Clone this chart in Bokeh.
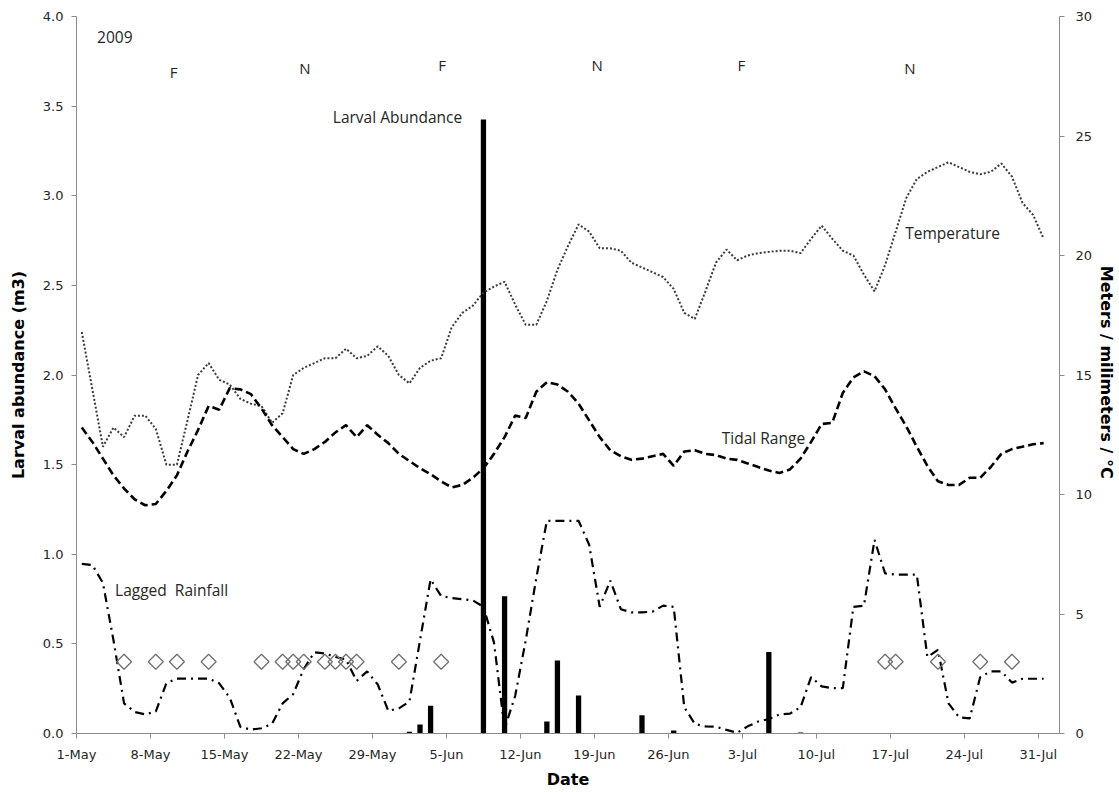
import numpy as np
import pandas as pd
from bokeh.plotting import figure
from bokeh.models import Range1d, LinearAxis, FixedTicker, ColumnDataSource, NumeralTickFormatter
from bokeh.embed import file_html
from bokeh.resources import INLINE
from bokeh.core.properties import value

# ---------------- data ----------------
start_date = "2009-05-01"
end_date = "2009-07-31"

temperature = [16.8, 14.4, 12.0, 12.8, 12.4, 13.3, 13.3, 12.75, 11.25, 11.25,
               13.1, 15.0, 15.5, 14.8, 14.6, 14.0, 13.8, 13.7, 13.0, 13.4,
               15.0, 15.3, 15.5, 15.7, 15.7, 16.1, 15.7, 15.8, 16.2, 15.8,
               15.0, 14.65, 15.3, 15.6, 15.7, 17.0, 17.6, 17.9, 18.45, 18.7,
               18.9, 17.95, 17.1, 17.1, 18.1, 19.4, 20.4, 21.3, 21.0, 20.3,
               20.3, 20.2, 19.7, 19.5, 19.3, 19.1, 18.6, 17.6, 17.35, 18.5,
               19.7, 20.25, 19.8, 20.0, 20.1, 20.15, 20.2, 20.2, 20.1, 20.7,
               21.25, 20.7, 20.2, 20.0, 19.2, 18.5, 19.6, 21.0, 22.4, 23.2,
               23.5, 23.7, 23.9, 23.7, 23.5, 23.4, 23.5, 23.85, 23.3, 22.2,
               21.7, 20.7]

tidal_range = [12.8, 12.2, 11.5, 10.8, 10.25, 9.8, 9.55, 9.6, 10.15, 10.8,
               11.8, 12.7, 13.7, 13.55, 14.45, 14.4, 14.2, 13.6, 12.9, 12.4,
               11.9, 11.7, 11.9, 12.2, 12.6, 12.9, 12.4, 12.9, 12.5, 12.15,
               11.7, 11.4, 11.1, 10.85, 10.55, 10.3, 10.4, 10.7, 11.1, 11.7,
               12.4, 13.3, 13.2, 14.3, 14.7, 14.6, 14.3, 13.8, 13.1, 12.4,
               11.85, 11.6, 11.45, 11.5, 11.6, 11.7, 11.2, 11.8, 11.85, 11.7,
               11.65, 11.5, 11.45, 11.3, 11.15, 11.0, 10.9, 11.05, 11.5, 12.2,
               12.95, 13.0, 14.25, 14.9, 15.15, 14.95, 14.4, 13.6, 12.85, 12.0,
               11.2, 10.55, 10.4, 10.4, 10.7, 10.7, 11.15, 11.7, 11.9, 12.0,
               12.1, 12.15]

lagged_rainfall = [7.1, 7.05, 6.3, 3.9, 1.26, 0.9, 0.8, 0.92, 2.1, 2.3,
                   2.3, 2.3, 2.3, 2.1, 1.5, 0.28, 0.16, 0.22, 0.4, 1.26,
                   1.65, 2.7, 3.4, 3.35, 3.2, 3.1, 2.2, 2.6, 2.05, 0.95,
                   1.05, 1.34, 3.9, 6.45, 5.75, 5.67, 5.62, 5.57, 5.3, 3.8,
                   0.2, 1.57, 3.9, 6.5, 8.9, 8.9, 8.9, 8.9, 7.9, 5.3,
                   6.4, 5.2, 5.07, 5.07, 5.1, 5.35, 5.3, 1.1, 0.4, 0.3,
                   0.28, 0.15, 0.03, 0.3, 0.5, 0.6, 0.8, 0.83, 1.1, 2.36,
                   1.97, 1.9, 1.9, 5.3, 5.35, 8.1, 6.7, 6.65, 6.65, 6.65,
                   3.2, 3.5, 1.26, 0.68, 0.63, 2.36, 2.6, 2.6, 2.13, 2.29,
                   2.29, 2.29]

larval_dates = ["2009-06-01", "2009-06-02", "2009-06-03", "2009-06-08", "2009-06-10",
                "2009-06-14", "2009-06-15", "2009-06-17", "2009-06-23", "2009-06-26",
                "2009-07-05", "2009-07-08"]
larval_abundance = [0.01, 0.05, 0.155, 3.425, 0.766, 0.067, 0.407, 0.212, 0.102, 0.017,
                    0.454, 0.006]

sample_dates = ["2009-05-05", "2009-05-08", "2009-05-10", "2009-05-13", "2009-05-18",
                "2009-05-20", "2009-05-21", "2009-05-22", "2009-05-24", "2009-05-25",
                "2009-05-26", "2009-05-27", "2009-05-31", "2009-06-04", "2009-07-16",
                "2009-07-17", "2009-07-21", "2009-07-25", "2009-07-28"]
sample_marker_value = [0.4] * len(sample_dates)

tick_labels = ["1-May", "8-May", "15-May", "22-May", "29-May", "5-Jun", "12-Jun",
               "19-Jun", "26-Jun", "3-Jul", "10-Jul", "17-Jul", "24-Jul", "31-Jul"]

moon_phase_labels = ["F", "N", "F", "N", "F", "N"]
series_labels = ["Larval Abundance", "Temperature", "Tidal Range", "Lagged\u00a0 Rainfall"]
year_label = "2009"

# ---------------- helpers ----------------
t0 = pd.Timestamp(start_date)
dates = pd.date_range(start_date, end_date, freq="D")
x_series = np.asarray((dates - t0).days, dtype=float) + 0.5


def day_pos(ds):
    return np.asarray((pd.to_datetime(ds) - t0).days, dtype=float) + 0.5


n_days = len(dates) + 1  # axis spans one extra category slot
tick_positions = list(range(0, len(dates) + 1, 7))

FONT_TICK = "DejaVu Sans"
FONT_NOTE = "Open Sans"
AXIS_COL = "#8c8c8c"
TXT_COL = "#262626"

p = figure(width=1119, height=792,
           x_range=Range1d(0, n_days), y_range=Range1d(0, 4),
           output_backend="svg", toolbar_location=None,
           min_border_left=76, min_border_right=60,
           min_border_top=16, min_border_bottom=59)
p.extra_y_ranges = {"right": Range1d(0, 30)}
p.outline_line_color = None
p.xgrid.visible = False
p.ygrid.visible = False
p.background_fill_color = "white"
p.border_fill_color = "white"


def style_axis(ax):
    ax.axis_line_color = AXIS_COL
    ax.major_tick_line_color = AXIS_COL
    ax.minor_tick_line_color = None
    ax.major_tick_out = 5
    ax.major_tick_in = 0
    ax.major_label_text_font = FONT_TICK
    ax.major_label_text_font_size = "13px"
    ax.major_label_text_color = TXT_COL
    ax.axis_label_text_font = FONT_TICK
    ax.axis_label_text_font_size = "16px"
    ax.axis_label_text_font_style = "bold"
    ax.axis_label_text_color = "black"


# x axis
xa = p.xaxis[0]
xa.ticker = FixedTicker(ticks=tick_positions)
xa.major_label_overrides = {t: lab for t, lab in zip(tick_positions, tick_labels)}
xa.axis_label = "Date"
style_axis(xa)
xa.major_label_standoff = 8
xa.axis_label_standoff = 5

# left axis
ya = p.yaxis[0]
ya.ticker = FixedTicker(ticks=[0, 0.5, 1.0, 1.5, 2.0, 2.5, 3.0, 3.5, 4.0])
ya.formatter = NumeralTickFormatter(format="0.0")
ya.axis_label = "Larval abundance (m3)"
style_axis(ya)
ya.major_label_standoff = 8
ya.axis_label_standoff = 12

# right axis
ra = LinearAxis(y_range_name="right", ticker=FixedTicker(ticks=[0, 5, 10, 15, 20, 25, 30]),
                axis_label="Meters / milimeters  / °C")
style_axis(ra)
ra.major_label_standoff = 11
ra.axis_label_standoff = 2
p.add_layout(ra, "right")

# bars
bar_src = ColumnDataSource(dict(x=day_pos(larval_dates), top=larval_abundance))
p.vbar(x="x", top="top", bottom=0, width=0.5, source=bar_src,
       fill_color="black", line_color=None)

# lines (right axis)
line_src = ColumnDataSource(dict(x=x_series, temp=temperature, tide=tidal_range, rain=lagged_rainfall))
p.line("x", "temp", source=line_src, y_range_name="right",
       line_color="#3a3a3a", line_width=2, line_dash="2 2")
p.line("x", "tide", source=line_src, y_range_name="right",
       line_color="black", line_width=2.6, line_dash="8 4")
p.line("x", "rain", source=line_src, y_range_name="right",
       line_color="black", line_width=2.2, line_dash="9 5 2 5")

# sample markers
mk_src = ColumnDataSource(dict(x=day_pos(sample_dates), y=sample_marker_value))
p.scatter("x", "y", source=mk_src, marker="square", angle=np.pi / 4, size=10.6,
          fill_color=None, line_color="#707070", line_width=1.3)

# annotations (positions in data coordinates of left axis)
moon_x = [9.2, 21.6, 34.6, 49.25, 62.9, 78.85]
moon_y = [3.69, 3.71, 3.73, 3.73, 3.73, 3.71]
p.text(x=moon_x, y=moon_y, text=moon_phase_labels, text_align="center",
       text_baseline="middle", text_font=value(FONT_NOTE), text_font_size="15px",
       text_color=TXT_COL)

note_x = [1.95, 24.25, 78.4, 61.05, 3.65]
note_y = [3.885, 3.437, 2.79, 1.646, 0.80]
p.text(x=note_x, y=note_y, text=[year_label] + series_labels, text_align="left",
       text_baseline="middle", text_font=value(FONT_NOTE), text_font_size="15.5px",
       text_color=TXT_COL)

open("out.html", "w").write(file_html(p, INLINE))
